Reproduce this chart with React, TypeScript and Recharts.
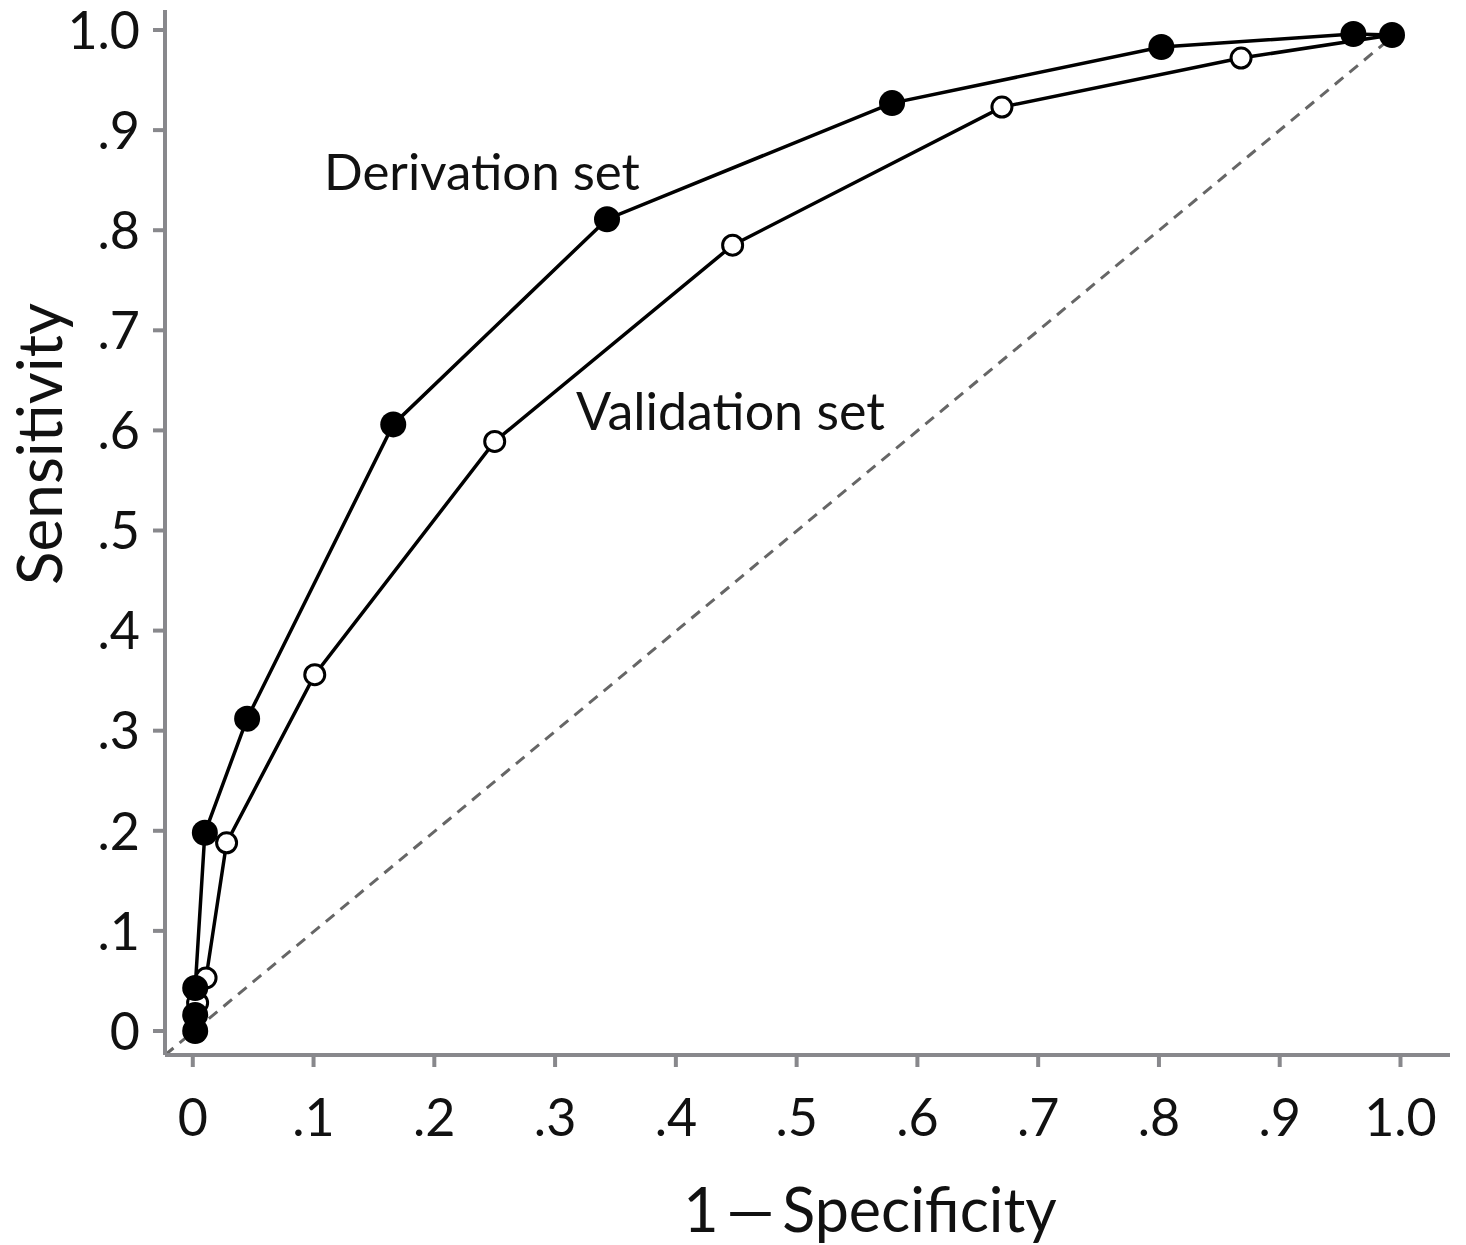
import { ComposedChart, Line, XAxis, YAxis, ReferenceLine } from 'recharts';

// ROC points (1 - specificity, sensitivity)
const derivX = [0.002, 0.002, 0.002, 0.010, 0.045, 0.166, 0.343, 0.579, 0.802, 0.961, 0.993];
const derivY = [0.0, 0.016, 0.043, 0.198, 0.312, 0.606, 0.811, 0.927, 0.983, 0.996, 0.995];
const validX = [0.002, 0.004, 0.011, 0.028, 0.101, 0.250, 0.447, 0.670, 0.868, 0.993];
const validY = [0.0, 0.028, 0.053, 0.188, 0.356, 0.589, 0.785, 0.923, 0.972, 0.995];

const axisTicks = [0, 0.1, 0.2, 0.3, 0.4, 0.5, 0.6, 0.7, 0.8, 0.9, 1.0];
const tickLabels = ['0', '.1', '.2', '.3', '.4', '.5', '.6', '.7', '.8', '.9', '1.0'];

const xDomain: [number, number] = [-0.023, 1.041];
const yDomain: [number, number] = [-0.024, 1.02];

const derivation = derivX.map((x, i) => ({ x, y: derivY[i] }));
const validation = validX.map((x, i) => ({ x, y: validY[i] }));

const FONT = 'Lato, "Open Sans", sans-serif';
const AXIS = '#88888c';

const label = (v: number) => {
  const i = axisTicks.findIndex((t) => Math.abs(t - v) < 1e-6);
  return i >= 0 ? tickLabels[i] : String(v);
};

const XTick = (props: any) => (
  <text x={props.x} y={props.y} dy="0.34em" textAnchor="middle" fontSize={52} fontFamily={FONT} fill="#111">
    {label(props.payload.value)}
  </text>
);

const YTick = (props: any) => (
  <text x={props.x} y={props.y} dy="0.36em" textAnchor="end" fontSize={52} fontFamily={FONT} fill="#111">
    {label(props.payload.value)}
  </text>
);

const FilledDot = (props: any) => <circle key={props.index} cx={props.cx} cy={props.cy} r={13} fill="#000" />;
const OpenDot = (props: any) => (
  <circle key={props.index} cx={props.cx} cy={props.cy} r={10} fill="#fff" stroke="#000" strokeWidth={3} />
);

export default function App() {
  return (
    <div style={{ position: 'relative', width: 1450, height: 1237, fontFamily: FONT }}>
      <ComposedChart
        width={1450}
        height={1237}
        margin={{ top: 2, right: 8, bottom: 0, left: 0 }}
        style={{ overflow: 'visible' }}
      >
        <XAxis
          type="number"
          dataKey="x"
          domain={xDomain}
          ticks={axisTicks}
          allowDataOverflow
          height={190}
          tickSize={12}
          tickMargin={51}
          axisLine={{ stroke: AXIS, strokeWidth: 4 }}
          tickLine={{ stroke: AXIS, strokeWidth: 4 }}
          tick={<XTick />}
        />
        <YAxis
          type="number"
          dataKey="y"
          domain={yDomain}
          ticks={axisTicks}
          allowDataOverflow
          width={157}
          tickSize={12}
          tickMargin={13}
          axisLine={{ stroke: AXIS, strokeWidth: 4 }}
          tickLine={{ stroke: AXIS, strokeWidth: 4 }}
          tick={<YTick />}
        />
        <ReferenceLine
          segment={[{ x: xDomain[0], y: yDomain[0] }, { x: 1, y: 1 }]}
          stroke="#666"
          strokeWidth={3}
          strokeDasharray="11 8"
        />
        <Line
          data={validation}
          dataKey="y"
          stroke="#000"
          strokeWidth={3.5}
          dot={<OpenDot />}
          activeDot={false}
          isAnimationActive={false}
        />
        <Line
          data={derivation}
          dataKey="y"
          stroke="#000"
          strokeWidth={3.5}
          dot={<FilledDot />}
          activeDot={false}
          isAnimationActive={false}
        />
      </ComposedChart>
      <div style={{ position: 'absolute', left: 316, top: 132, fontSize: 51, color: '#111', whiteSpace: 'nowrap' }}>
        Derivation set
      </div>
      <div style={{ position: 'absolute', left: 568, top: 371, fontSize: 52, color: '#111', whiteSpace: 'nowrap' }}>
        Validation set
      </div>
      <div
        style={{
          position: 'absolute',
          left: 862,
          top: 1200,
          transform: 'translate(-50%, -50%)',
          fontSize: 61,
          lineHeight: 1,
          color: '#111',
          whiteSpace: 'nowrap',
        }}
      >
        1{'\u2009'}—{'\u2009'}Specificity
      </div>
      <div
        style={{
          position: 'absolute',
          left: 30,
          top: 436,
          transform: 'translate(-50%, -50%) rotate(-90deg)',
          fontSize: 62,
          lineHeight: 1,
          color: '#111',
          whiteSpace: 'nowrap',
        }}
      >
        Sensitivity
      </div>
    </div>
  );
}
